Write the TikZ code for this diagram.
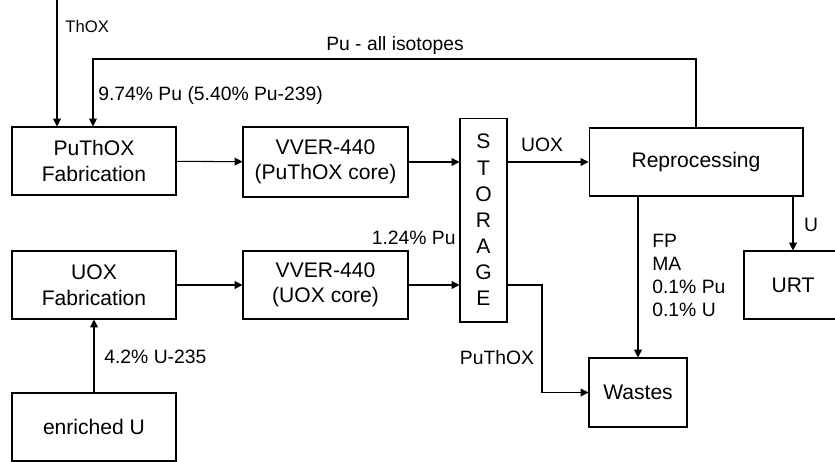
\documentclass[tikz,border=0pt]{standalone}
\usepackage{fontspec}
\setmainfont{Liberation Sans}
\usepackage{tikz}
\usetikzlibrary{arrows.meta,positioning,calc}
\tikzset{
  unitbox/.style={draw=black,fill=white,line width=0.6pt,
                  minimum width=3.28cm,minimum height=1.36cm,
                  align=center,font=\fontsize{12}{14.5}\selectfont,inner sep=2pt},
  stackbox/.style={draw=black,fill=white,line width=0.6pt,
                   minimum width=0.94cm,minimum height=4.08cm,
                   align=center,font=\fontsize{12}{14.9}\selectfont,inner sep=1pt},
  tag/.style={font=\fontsize{11}{13}\selectfont,inner sep=0pt,align=left},
  flowarr/.style={-{Triangle[length=4.5pt,width=4.5pt]},line width=0.6pt},
  flowline/.style={line width=0.6pt}
}
\begin{document}
\begin{tikzpicture}[x=0.02cm,y=-0.02cm]
  \useasboundingbox (0,0) rectangle (835,461);
  % upper row
  \node[unitbox] (fabput) at (94,161) {PuThOX\\Fabrication};
  \node[unitbox,minimum width=3.3cm,minimum height=1.4cm] (vvput) at (325.5,162) {VVER-440\\(PuThOX core)};
  \node[stackbox] (store) at (483.5,220) {S\\T\\O\\R\\A\\G\\E};
  \node[unitbox,minimum width=4.28cm] (repro) at (696,162) {Reprocessing};
  % lower row
  \node[unitbox] (fabuox) at (94,285) {UOX\\Fabrication};
  \node[unitbox,minimum width=3.3cm] (vvuox) at (325.5,285) {VVER-440\\(UOX core)};
  \node[unitbox] (enru) at (94,427) {enriched U};
  \node[unitbox,minimum width=1.96cm,minimum height=1.38cm] (waste) at (638,392.5) {Wastes};
  \node[unitbox,minimum width=1.96cm] (urt) at (793,285) {URT};
  % free ends
  \coordinate (thin) at (57,0);
  \coordinate (fbtop) at (93,59);
  \coordinate (kink) at (542,392.5);
  % connectors
  \draw[flowarr] (thin) -- (thin |- fabput.north);
  \draw[flowarr] (repro.north) |- (fbtop) -- (fbtop |- fabput.north);
  \draw[flowarr] (fabput) -- (vvput);
  \draw[flowarr] (vvput) -- (vvput -| store.west);
  \draw[flowarr] (store.east |- repro) -- (repro.west);
  \draw[flowarr] (fabuox) -- (vvuox);
  \draw[flowarr] (vvuox) -- (vvuox -| store.west);
  \draw[flowarr] (enru.north) -- (fabuox.south);
  \draw[flowarr] (store.east |- vvuox) -| (kink) -- (waste.west);
  \draw[flowarr] (waste.north |- repro.south) -- (waste.north);
  \draw[flowarr] (urt.north |- repro.south) -- (urt.north);
  % labels
  \node[tag,anchor=west,font=\fontsize{9.5}{11}\selectfont] (lthox) at (65,27) {ThOX};
  \node[tag] (lall) at (395,45) {Pu - all isotopes};
  \node[tag,anchor=west] (lmix) at (98,95) {9.74\% Pu (5.40\% Pu-239)};
  \node[tag] (luox) at (542,145) {UOX};
  \node[tag,anchor=east] (lpu) at (456,238) {1.24\% Pu};
  \node[tag,anchor=west] (lenr) at (104,357) {4.2\% U-235};
  \node[tag] (lpt) at (497,358) {PuThOX};
  \node[tag,anchor=north west] (lfp) at (652,234) {FP\\MA\\0.1\% Pu\\0.1\% U};
  \node[tag] (lu) at (811,225) {U};
\end{tikzpicture}
\end{document}
